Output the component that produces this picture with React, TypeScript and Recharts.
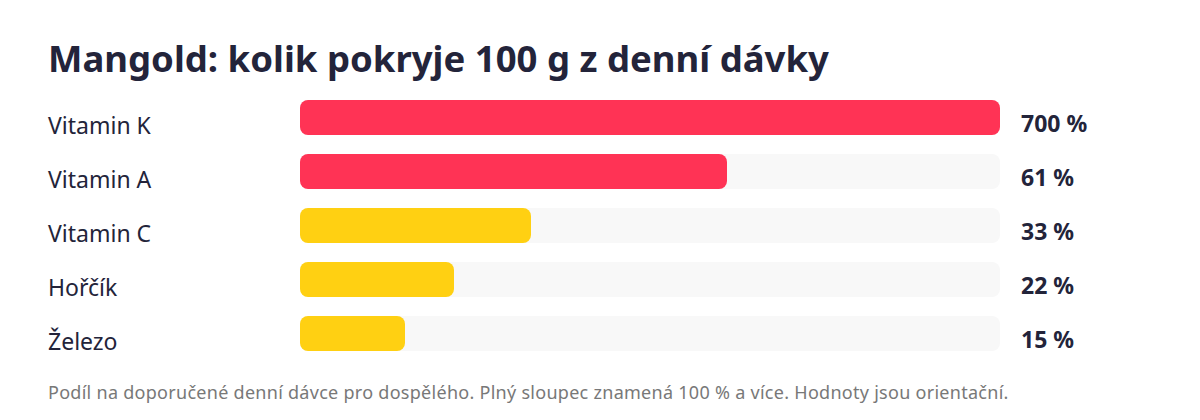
import React from "react";
import { BarChart, Bar, XAxis, YAxis, Cell, LabelList } from "recharts";

const categories = ["Vitamin K", "Vitamin A", "Vitamin C", "Hořčík", "Železo"];
const percentValues = [700, 61, 33, 22, 15];
const barColors = ["#ff3355", "#ff3355", "#ffd012", "#ffd012", "#ffd012"];
const valueLabels = ["700 %", "61 %", "33 %", "22 %", "15 %"];

const TITLE = "Mangold: kolik pokryje 100 g z denní dávky";
const FOOTER =
  "Podíl na doporučené denní dávce pro dospělého. Plný sloupec znamená 100 % a více. Hodnoty jsou orientační.";

const FONT = "'Noto Sans', 'Open Sans', sans-serif";
const INK = "#23243a";

const data = categories.map((name, i) => ({
  name,
  value: percentValues[i],
  display: Math.min(percentValues[i], 100),
  label: valueLabels[i],
  color: barColors[i],
}));

const CategoryTick = (props: any) => {
  const { y, payload } = props;
  return (
    <text x={48} y={y} dy={17} textAnchor="start" fontFamily={FONT} fontSize={23} fill={INK}>
      {payload.value}
    </text>
  );
};

const ValueLabel = (props: any) => {
  const { x, y, width, height, index } = props;
  const d = data[index];
  const full = width * (100 / d.display);
  return (
    <text
      x={x + full + 21}
      y={y + height / 2}
      dy={14}
      textAnchor="start"
      fontFamily={FONT}
      fontSize={23}
      fontWeight={700}
      fill={INK}
    >
      {d.label}
    </text>
  );
};

export default function App() {
  return (
    <div style={{ position: "absolute", left: 0, top: 0, width: 1200, height: 420, background: "#fff" }}>
      <svg width={1200} height={420} style={{ position: "absolute", left: 0, top: 0 }}>
        <text x={48} y={72} fontFamily={FONT} fontSize={36.5} fontWeight={700} fill={INK}>
          {TITLE}
        </text>
        <text x={48} y={399} fontFamily={FONT} fontSize={18} letterSpacing={0.28} fill="#787878">
          {FOOTER}
        </text>
      </svg>
      <div style={{ position: "absolute", left: 0, top: 0 }}>
        <BarChart
          width={1200}
          height={420}
          data={data}
          layout="vertical"
          margin={{ top: 90, right: 200, bottom: 60, left: 0 }}
        >
          <XAxis type="number" domain={[0, 100]} hide />
          <YAxis
            type="category"
            dataKey="name"
            width={300}
            axisLine={false}
            tickLine={false}
            tick={<CategoryTick />}
            interval={0}
          />
          <Bar
            dataKey="display"
            barSize={35}
            radius={8}
            background={{ fill: "#f8f8f8", radius: 8 } as any}
            isAnimationActive={false}
          >
            {data.map((d) => (
              <Cell key={d.name} fill={d.color} />
            ))}
            <LabelList dataKey="display" content={<ValueLabel />} />
          </Bar>
        </BarChart>
      </div>
    </div>
  );
}
